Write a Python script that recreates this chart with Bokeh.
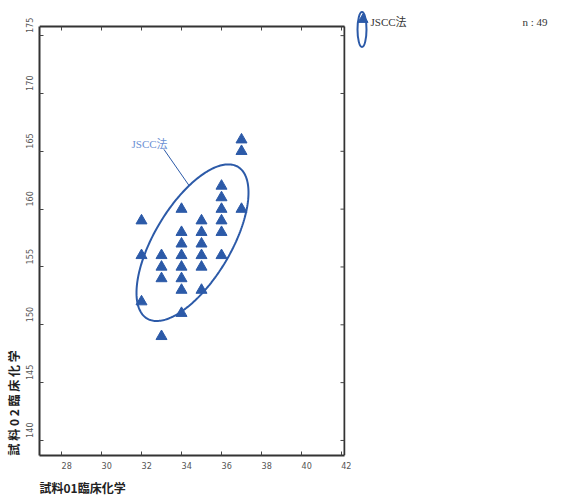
import numpy as np
from bokeh.plotting import figure
from bokeh.layouts import row
from bokeh.models import FixedTicker, Range1d, Title, Label
from bokeh.core.properties import value
from bokeh.embed import file_html
from bokeh.resources import INLINE

# Sample 01 (x) vs sample 02 (y), clinical chemistry, JSCC method
x_vals = [32, 32, 32,
          33, 33, 33, 33,
          34, 34, 34, 34, 34, 34, 34, 34,
          35, 35, 35, 35, 35, 35,
          36, 36, 36, 36, 36, 36,
          37, 37, 37]
y_vals = [159, 156, 152,
          156, 155, 154, 149,
          160, 158, 157, 156, 155, 154, 153, 151,
          159, 158, 157, 156, 155, 153,
          162, 161, 160, 159, 158, 156,
          166, 165, 160]
n_count = 49

x_ticks = [28, 30, 32, 34, 36, 38, 40, 42]
y_ticks = [140, 145, 150, 155, 160, 165, 170, 175]

# confidence ellipse: centre, spreads and correlation
ell_cx, ell_cy = 34.55, 157.1
ell_sx, ell_sy = 2.8, 6.77
ell_r = 0.64

series_name = "JSCC法"
x_title = "試料01臨床化学"
y_title = "試 料 0 2 臨 床 化 学"

BLUE = "#2c5aa8"
EDGE = "#333333"
TICK_FONT = "Liberation Sans Narrow, DejaVu Sans Condensed, Roboto, sans-serif"
SERIF = "Liberation Serif, Noto Sans CJK JP, serif"
CJK = "Noto Sans CJK JP"

# plotting box limits
x0, x1 = 26.9, 42.15
y0, y1 = 138.7, 175.79

# the frame reaches the top of the canvas so the legend panel beside it
# can use the full height; the box itself is drawn at x0..x1, y0..y1
box_px_h = 429
top_px = 26
y_ext = y1 + (y1 - y0) * top_px / box_px_h
x_ext = x1 + (x1 - x0) / 305

p = figure(width=351, height=499, output_backend="svg", toolbar_location=None,
           x_range=Range1d(x0, x_ext), y_range=Range1d(y0, y_ext),
           min_border_left=39, min_border_right=6, min_border_top=0,
           min_border_bottom=44)
p.grid.visible = False
p.background_fill_color = "white"
p.border_fill_color = "white"
p.outline_line_color = None

p.xaxis.ticker = FixedTicker(ticks=x_ticks)
p.yaxis.ticker = FixedTicker(ticks=y_ticks)
p.xaxis.bounds = (x0, x1)
p.yaxis.bounds = (y0, y1)

for ax in p.axis:
    ax.axis_line_color = EDGE
    ax.axis_line_width = 2
    ax.major_tick_in = 4
    ax.major_tick_out = 0
    ax.major_tick_line_color = "#444444"
    ax.major_tick_line_width = 1
    ax.minor_tick_line_color = None
    ax.major_label_text_color = "#555555"
    ax.major_label_text_font = TICK_FONT
    ax.major_label_text_font_size = "9px"

fs = "\u2007"
p.xaxis.major_label_standoff = 5
p.xaxis.major_label_overrides = {t: fs * len(str(t)) + str(t) for t in x_ticks}
p.yaxis.major_label_standoff = 4
p.yaxis.major_label_orientation = "vertical"
p.yaxis.major_label_overrides = {t: fs * (len(str(t)) + 1) + str(t) for t in y_ticks}

# top and right edges of the box
p.segment(x0=[x0, x1], y0=[y1, y0], x1=[x1, x1], y1=[y1, y1],
          line_color=EDGE, line_width=2)

# inward ticks along the top and right edges
p.ray(x=x_ticks, y=[y1] * len(x_ticks), length=4, length_units="screen",
      angle=-np.pi / 2, line_color="#444444", line_width=1)
p.ray(x=[x1] * len(y_ticks), y=y_ticks, length=4, length_units="screen",
      angle=np.pi, line_color="#444444", line_width=1)

# ellipse outline
t = np.linspace(0, 2 * np.pi, 240)
ex = ell_cx + ell_sx * np.cos(t)
ey = ell_cy + ell_sy * (ell_r * np.cos(t) + np.sqrt(1 - ell_r ** 2) * np.sin(t))
p.line(ex, ey, line_color=BLUE, line_width=2)

p.scatter(x_vals, y_vals, marker="triangle", size=11,
          fill_color=BLUE, line_color=BLUE)

# callout for the ellipse
p.line([33.12, 34.37], [165.17, 162.06], line_color=BLUE, line_width=1)
p.add_layout(Label(x=31.5, y=165.6, text=series_name, text_font=SERIF,
                   text_font_size="11px", text_color="#6b8fd3",
                   text_baseline="middle"))

# axis titles
p.add_layout(Title(text=x_title, align="left", text_font=CJK,
                   text_font_style="bold", text_font_size="12px",
                   text_color="#222222", standoff=7), "below")
p.add_layout(Title(text=y_title, align="left", text_font=CJK,
                   text_font_style="bold", text_font_size="12px",
                   text_color="#222222", standoff=2), "left")

# legend panel (y measured downward from the top of the canvas)
lg = figure(width=212, height=499, output_backend="svg", toolbar_location=None,
            x_range=Range1d(351, 563), y_range=Range1d(455, 0),
            min_border=0, x_axis_type=None, y_axis_type=None)
lg.grid.visible = False
lg.outline_line_color = None
lg.ellipse(x=[361.5], y=[29], width=9, height=35, fill_color=None,
           line_color=BLUE, line_width=2)
lg.scatter(x=[362.5], y=[19], marker="triangle", size=10,
           fill_color=BLUE, line_color=BLUE)
lg.text(x=[370], y=[21.5], text=[series_name], text_font=value(SERIF),
        text_font_size="11px", text_color="#333333", text_baseline="middle")
lg.text(x=[547], y=[21.5], text=[f"n : {n_count}"], text_font=value(SERIF),
        text_font_size="11px", text_color="#333333", text_baseline="middle",
        text_align="right")

layout = row(p, lg)
open("out.html", "w").write(file_html(layout, INLINE))
